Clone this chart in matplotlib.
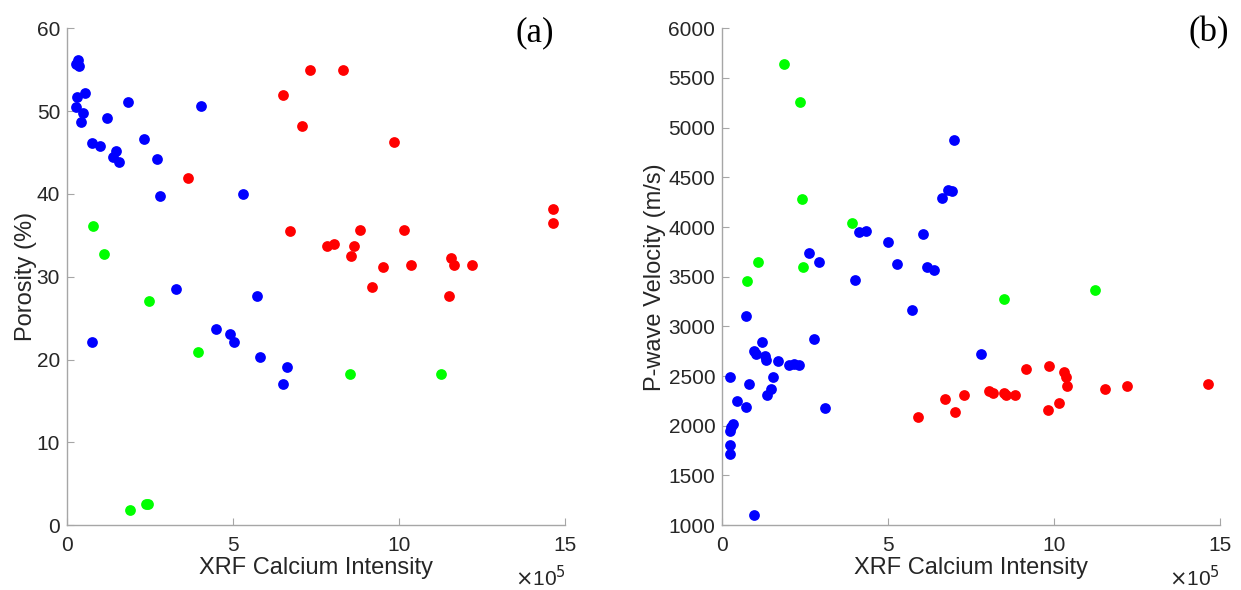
import numpy as np
import matplotlib.pyplot as plt

# x in units of 1e5 counts
# (a) porosity vs calcium
por_blue_x = [0.33, 0.28, 0.36, 0.54, 0.31, 0.28, 0.48, 0.41, 1.20, 1.83, 0.75, 0.98, 1.47, 1.39, 1.57,
              2.32, 2.70, 2.79, 4.04, 5.31, 0.74, 3.30, 4.50, 4.91, 5.03, 5.74, 5.83, 6.64, 6.50]
por_blue_y = [56.2, 55.7, 55.5, 52.2, 51.7, 50.5, 49.8, 48.7, 49.2, 51.1, 46.2, 45.8, 45.2, 44.4, 43.8,
              46.6, 44.2, 39.8, 50.6, 40.0, 22.1, 28.5, 23.7, 23.1, 22.1, 27.7, 20.3, 19.1, 17.0]
por_red_x = [3.64, 6.52, 7.33, 8.33, 7.07, 9.85, 6.72, 14.65, 14.65, 8.82, 10.17, 7.84, 8.06, 8.64,
             8.57, 9.52, 10.38, 11.56, 11.67, 12.20, 9.19, 11.52]
por_red_y = [41.9, 52.0, 55.0, 55.0, 48.2, 46.3, 35.5, 38.2, 36.5, 35.6, 35.7, 33.7, 33.9, 33.7,
             32.5, 31.2, 31.4, 32.2, 31.4, 31.4, 28.8, 27.7]
por_green_x = [0.77, 1.11, 2.46, 3.95, 1.90, 2.37, 2.45, 8.52, 11.26]
por_green_y = [36.1, 32.7, 27.1, 20.9, 1.8, 2.5, 2.5, 18.3, 18.3]

# (b) p-wave velocity vs calcium
vp_blue_x = [6.98, 6.79, 6.92, 6.61, 4.12, 4.34, 5.01, 6.06, 2.62, 2.91, 5.28, 6.18, 6.38, 4.01,
             0.72, 5.72, 2.78, 1.21, 0.96, 1.02, 1.29, 1.31, 1.69, 2.01, 2.16, 2.31, 0.23, 1.53,
             0.81, 1.46, 1.34, 0.45, 0.71, 3.11, 0.33, 0.25, 0.22, 0.23, 0.22, 0.97, 7.79]
vp_blue_y = [4872, 4374, 4364, 4296, 3952, 3958, 3846, 3928, 3741, 3647, 3627, 3597, 3566, 3462,
             3108, 3162, 2874, 2847, 2757, 2723, 2700, 2660, 2647, 2610, 2620, 2613, 2486, 2490,
             2419, 2365, 2305, 2251, 2191, 2181, 2014, 1984, 1947, 1803, 1716, 1100, 2720]
vp_red_x = [5.90, 6.71, 7.30, 7.02, 9.17, 9.86, 10.30, 10.35, 10.38, 11.54, 12.20, 14.63, 8.04,
            8.16, 8.49, 8.55, 8.81, 10.15, 9.83]
vp_red_y = [2087, 2265, 2305, 2135, 2576, 2599, 2542, 2491, 2398, 2372, 2402, 2416, 2348,
            2328, 2325, 2305, 2311, 2231, 2155]
vp_green_x = [1.87, 2.34, 2.41, 3.92, 1.09, 2.43, 0.74, 8.49, 11.23]
vp_green_y = [5639, 5260, 4279, 4042, 3651, 3597, 3456, 3275, 3366]

plt.rcParams['font.family'] = ['Liberation Sans', 'DejaVu Sans']

fig = plt.figure(figsize=(12.41, 5.90), dpi=100)
ax1 = fig.add_axes([0.054, 0.110, 0.401, 0.842])
ax2 = fig.add_axes([0.582, 0.110, 0.401, 0.842])

txt = '#262626'
ms = 60
for ax, bx, by, rx, ry, gx, gy in [
        (ax1, por_blue_x, por_blue_y, por_red_x, por_red_y, por_green_x, por_green_y),
        (ax2, vp_blue_x, vp_blue_y, vp_red_x, vp_red_y, vp_green_x, vp_green_y)]:
    ax.scatter(bx, by, s=ms, c='#0000ff', linewidths=0, zorder=3)
    ax.scatter(rx, ry, s=ms, c='#ff0000', linewidths=0, zorder=3)
    ax.scatter(gx, gy, s=ms, c='#00ff00', linewidths=0, zorder=3)
    ax.set_xlim(0, 15)
    ax.set_xticks([0, 5, 10, 15])
    for s in ['top', 'right']:
        ax.spines[s].set_visible(False)
    for s in ['left', 'bottom']:
        ax.spines[s].set_color('#a6a6a6')
        ax.spines[s].set_linewidth(1.0)
    ax.tick_params(direction='in', length=5, color='#a6a6a6', labelsize=15,
                   labelcolor=txt)
    ax.tick_params(axis='x', pad=8)
    ax.tick_params(axis='y', pad=5)
    ax.set_xlabel('XRF Calcium Intensity', fontsize=17, color=txt, labelpad=1)

fig.text(566 / 1241, 4 / 590, r'$\times$10$^5$', ha='right', va='baseline', fontsize=15, color=txt)
fig.text(1220 / 1241, 4 / 590, r'$\times$10$^5$', ha='right', va='baseline', fontsize=15, color=txt)

ax1.set_ylim(0, 60)
ax1.set_yticks(np.arange(0, 61, 10))
ax1.set_ylabel('Porosity (%)', fontsize=17, color=txt, labelpad=0)
fig.text(554 / 1241, 1 - 16 / 590, '(a)', ha='right', va='top', fontsize=25, family='Liberation Serif')

ax2.set_ylim(1000, 6000)
ax2.set_yticks(np.arange(1000, 6001, 500))
ax2.set_ylabel('P-wave Velocity (m/s)', fontsize=17, color=txt, labelpad=1.5)
fig.text(1229 / 1241, 1 - 16 / 590, '(b)', ha='right', va='top', fontsize=25, family='Liberation Serif')

fig.savefig('out.png', dpi=100)
